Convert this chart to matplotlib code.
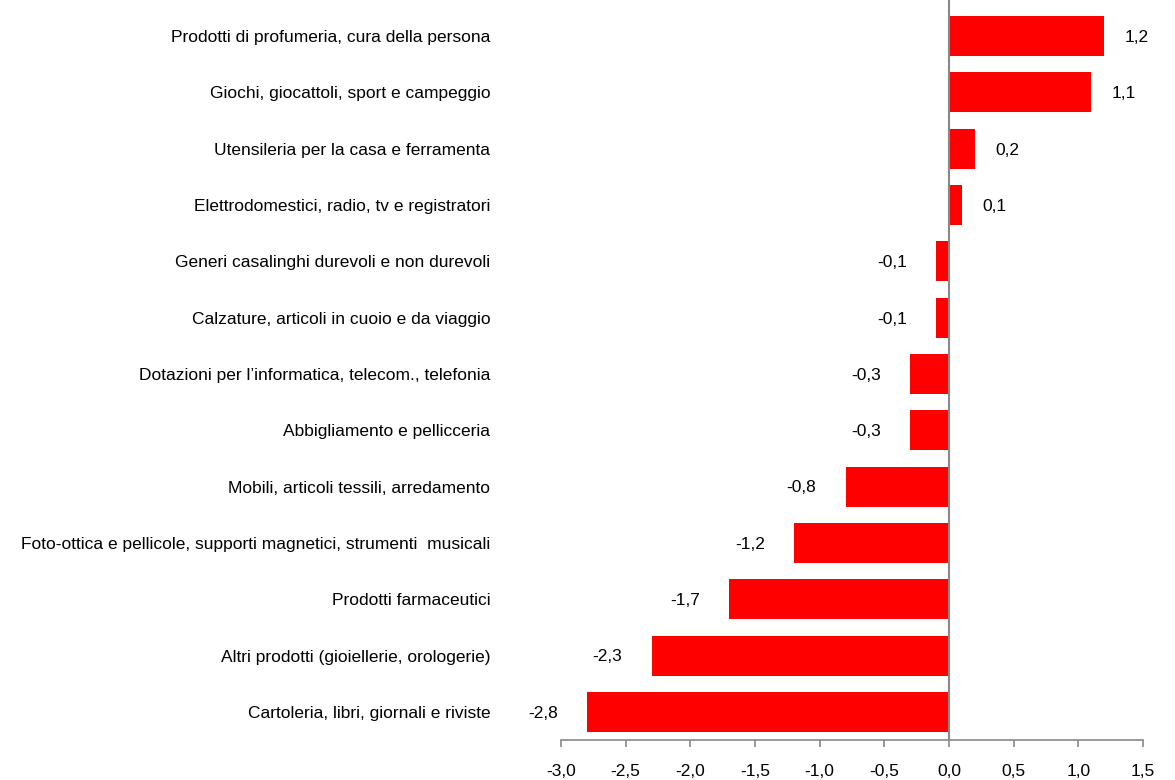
import matplotlib.pyplot as plt
import matplotlib.font_manager as fm

# font: narrow sans if available
names = {f.name for f in fm.fontManager.ttflist}
fam = 'Liberation Sans Narrow' if 'Liberation Sans Narrow' in names else 'Liberation Sans'
plt.rcParams['font.family'] = [fam, 'DejaVu Sans']

# data (bottom to top)
categories = [
    "Cartoleria, libri, giornali e riviste",
    "Altri prodotti (gioiellerie, orologerie)",
    "Prodotti farmaceutici",
    "Foto-ottica e pellicole, supporti magnetici, strumenti  musicali",
    "Mobili, articoli tessili, arredamento",
    "Abbigliamento e pellicceria",
    "Dotazioni per l\u2019informatica, telecom., telefonia",
    "Calzature, articoli in cuoio e da viaggio",
    "Generi casalinghi durevoli e non durevoli",
    "Elettrodomestici, radio, tv e registratori",
    "Utensileria per la casa e ferramenta",
    "Giochi, giocattoli, sport e campeggio",
    "Prodotti di profumeria, cura della persona",
]
values = [-2.8, -2.3, -1.7, -1.2, -0.8, -0.3, -0.3, -0.1, -0.1, 0.1, 0.2, 1.1, 1.2]
xticks = [-3.0, -2.5, -2.0, -1.5, -1.0, -0.5, 0.0, 0.5, 1.0, 1.5]

fig = plt.figure(figsize=(11.75, 7.80), dpi=100)
ax = fig.add_axes([561/1175, 1 - 740/780, (1143 - 561)/1175, 740/780])

pos = list(range(len(values)))
ax.barh(pos, values, height=0.71, color='#ff0000')

for y, v in zip(pos, values):
    txt = f"{v:.1f}".replace('.', ',')
    if v >= 0:
        ax.annotate(txt, (v, y), xytext=(15, -1), textcoords='offset points',
                    ha='left', va='center', fontsize=12.5)
    else:
        ax.annotate(txt, (v, y), xytext=(-21, -1), textcoords='offset points',
                    ha='right', va='center', fontsize=12.5)

ax.set_xlim(-3.0, 1.5)
ax.set_ylim(-0.5, 12.64)
ax.axvline(0, color='#888888', lw=1.5, zorder=3)

ax.set_yticks(pos)
ax.set_yticklabels(categories, fontsize=12.5)
ax.tick_params(axis='y', length=0, pad=51)

ax.set_xticks(xticks)
ax.set_xticklabels([f"{t:.1f}".replace('.', ',') for t in xticks], fontsize=12.5)
ax.tick_params(axis='x', length=5, color='#888888', width=1.2, pad=12)

for s in ['left', 'right', 'top']:
    ax.spines[s].set_visible(False)
ax.spines['bottom'].set_color('#888888')
ax.spines['bottom'].set_linewidth(1.2)

fig.savefig('out.png', dpi=100)
